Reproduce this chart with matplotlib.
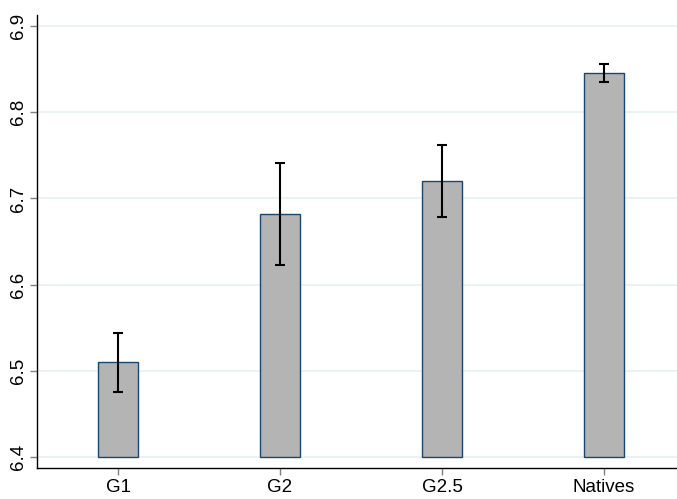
import matplotlib
matplotlib.use("Agg")
import matplotlib.pyplot as plt
import numpy as np

plt.rcParams['font.family'] = ['Liberation Sans', 'DejaVu Sans']

categories = ["G1", "G2", "G2.5", "Natives"]
means = [6.510, 6.682, 6.720, 6.845]
ci_low = [6.475, 6.623, 6.678, 6.835]
ci_high = [6.544, 6.741, 6.762, 6.856]
yticks = [6.4, 6.5, 6.6, 6.7, 6.8, 6.9]
base = 6.4

fig = plt.figure(figsize=(6.77, 4.99), dpi=100)
ax = fig.add_axes([37/677, 31/499, 1 - 37/677, (468-15)/499])

x = np.arange(1, len(categories) + 1)
heights = [m - base for m in means]
ax.bar(x, heights, bottom=base, width=0.25, color="#b4b4b4",
       edgecolor="#1a476f", linewidth=1.0, zorder=2)
yerr = np.array([[m - l for m, l in zip(means, ci_low)],
                 [h - m for m, h in zip(means, ci_high)]])
ax.errorbar(x, means, yerr=yerr, fmt="none", ecolor="black",
            elinewidth=1.5, capsize=3.8, capthick=1.5, zorder=3)

ax.set_xlim(0.5, 4.45)
ax.set_ylim(6.3872, 6.9128)
ax.set_yticks(yticks)
ax.set_yticklabels([f"{t:.1f}" for t in yticks], rotation=90, va="center")
ax.set_xticks(x)
ax.set_xticklabels(categories)
ax.yaxis.grid(True, color="#e8f0f2", linewidth=1.2, zorder=0)
ax.set_axisbelow(True)
for s in ["top", "right"]:
    ax.spines[s].set_visible(False)
for s in ["left", "bottom"]:
    ax.spines[s].set_linewidth(1.0)
    ax.spines[s].set_color("black")
ax.tick_params(axis="both", labelsize=13.5, length=5, width=1, color="#808080",
               labelcolor="black")
ax.tick_params(axis="y", pad=2)
ax.tick_params(axis="x", pad=3)

fig.savefig("out.png", dpi=100)
